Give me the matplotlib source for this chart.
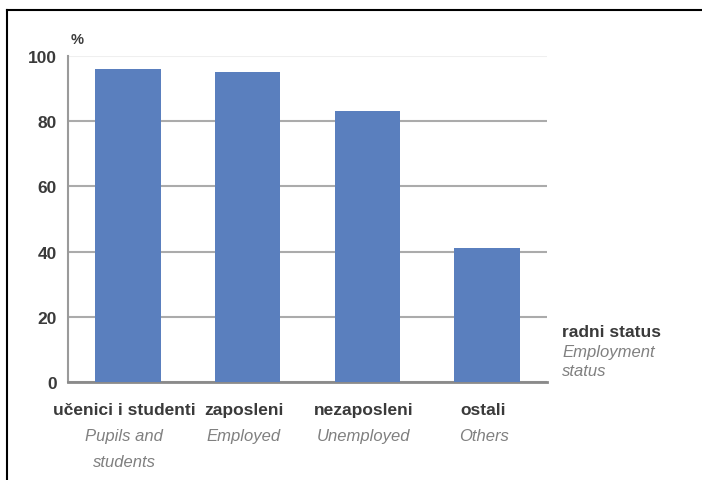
import matplotlib
matplotlib.use('Agg')

import matplotlib.pyplot as plt
from matplotlib.lines import Line2D
import matplotlib.transforms as mtransforms

# data
categories_hr = ['učenici i studenti', 'zaposleni', 'nezaposleni', 'ostali']
categories_en = ['Pupils and\nstudents', 'Employed', 'Unemployed', 'Others']
values = [96, 95, 83, 41]
yticks = [0, 20, 40, 60, 80, 100]

BAR = '#5a7fbe'
GRID = '#ababab'
TXT = '#3a3a3a'
TXT_EN = '#808080'
FONT = ['Liberation Sans', 'DejaVu Sans']

plt.rcParams['font.family'] = FONT

W, H = 702, 481
fig = plt.figure(figsize=(W / 100, H / 100), dpi=100, facecolor='white')
ax = fig.add_axes([68 / W, (H - 383) / H, 479 / W, 326 / H])

x = range(len(values))
ax.bar(x, values, width=0.545, color=BAR, zorder=3)

ax.set_xlim(-0.5, 3.5)
ax.set_ylim(0, 100)
ax.set_yticks(yticks)
ax.set_xticks([])
ax.grid(axis='y', color=GRID, linewidth=1.5, zorder=0)
ax.get_ygridlines()[-1].set_color('#efefef')
ax.tick_params(axis='y', length=0, pad=8, labelsize=12.5, labelcolor=TXT)
for lbl in ax.get_yticklabels():
    lbl.set_fontweight('bold')

for s in ['top', 'right']:
    ax.spines[s].set_visible(False)
ax.spines['left'].set_color('#9a9a9a')
ax.spines['left'].set_linewidth(1.5)
ax.spines['bottom'].set_color('#8a8a8a')
ax.spines['bottom'].set_linewidth(2)

# category labels under the bars
trans = mtransforms.blended_transform_factory(ax.transData, ax.transAxes)
for i, (hr, en) in enumerate(zip(categories_hr, categories_en)):
    ax.text(i - 0.03, -0.083, hr, transform=trans, ha='center', va='center',
            fontsize=12.5, fontweight='bold', color=TXT)
    ax.text(i - 0.03, -0.142, en, transform=trans, ha='center', va='top',
            fontsize=12, style='italic', color=TXT_EN, linespacing=1.9)

# axis unit and x-axis title
fig.text(71 / W, 1 - 40 / H, '%', fontsize=10.5, fontweight='bold', color=TXT,
         ha='left', va='center')
fig.text(562 / W, 1 - 333 / H, 'radni status', fontsize=12.5, fontweight='bold',
         color=TXT, ha='left', va='center')
fig.text(562 / W, 1 - 345 / H, 'Employment\nstatus', fontsize=12, style='italic',
         color=TXT_EN, ha='left', va='top', linespacing=1.3)

# black frame around the picture (top and left edges)
fig.add_artist(Line2D([7 / W, 1], [1 - 11 / H, 1 - 11 / H], color='black', lw=1.5))
fig.add_artist(Line2D([7 / W, 7 / W], [0, 1 - 11 / H], color='black', lw=1.5))

fig.savefig('out.png', dpi=100, facecolor='white')
